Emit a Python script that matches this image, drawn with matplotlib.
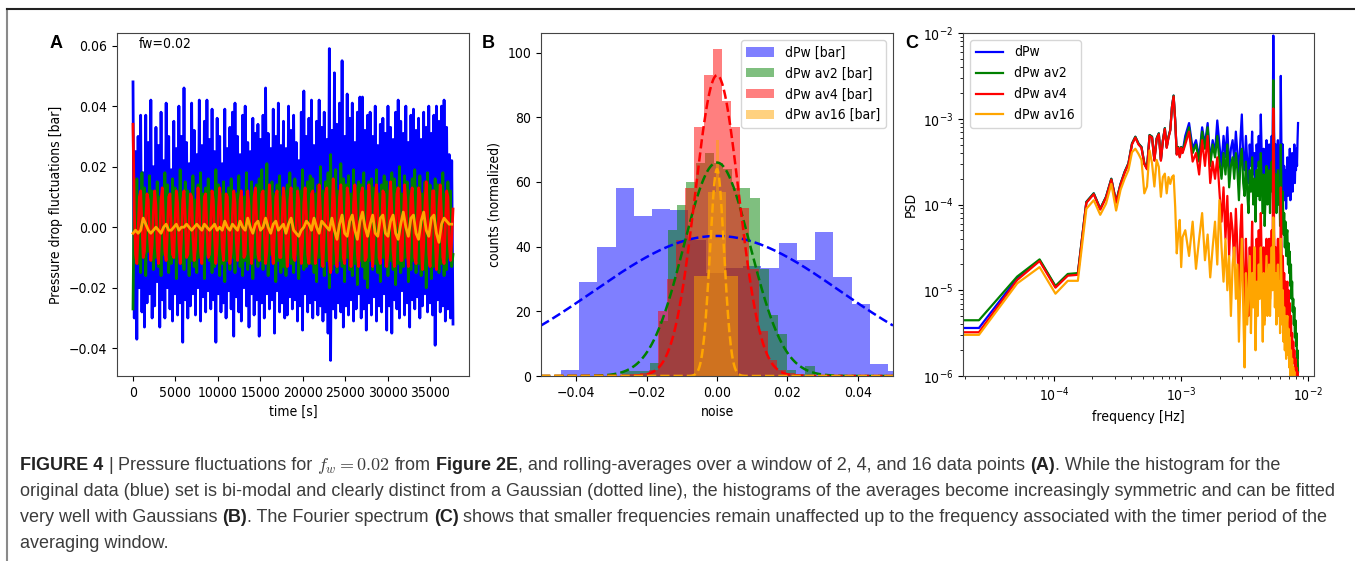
import numpy as np
import matplotlib
matplotlib.use("Agg")
import matplotlib.pyplot as plt
from matplotlib.lines import Line2D

plt.rcParams["font.stretch"] = "condensed"

# ---- A: pressure drop fluctuations [mbar], blue/green/red every 150 s, av16 every 300 s
dpw_mbar = [
    48, -30, 25, -37, 30, -20, 37, -28, 18, -33, 37, -25, 28, -22, 42, -30, 20, -26, 33, -18,
    27, -33, 38, -24, 22, -30, 41, -20, 30, -27, 19, -31, 35, -22, 26, -29, 40, -25, 30, -38,
    46, -24, 28, -30, 21, -26, 41, -22, 32, -29, 24, -20, 42, -31, 27, -23, 35, -28, 42, -21,
    29, -27, 39, -24, 25, -38, 36, -22, 30, -28, 21, -25, 39, -30, 26, -21, 33, -27, 38, -36,
    41, -23, 30, -28, 24, -31, 37, -20, 40, -26, 28, -33, 25, -22, 36, -29, 31, -24, 34, -36,
    29, -25, 37, -30, 46, -22, 31, -27, 26, -24, 39, -35, 30, -21, 41, -28, 27, -25, 35, -30,
    26, -29, 40, -23, 32, -27, 37, -24, 28, -31, 22, -26, 38, -34, 45, -22, 30, -28, 36, -25,
    42, -30, 27, -24, 35, -29, 42, -26, 33, -31, 38, -28, 29, -35, 59, -44, 32, -27, 51, -30,
    34, -25, 41, -28, 55, -33, 30, -26, 44, -29, 36, -24, 41, -31, 28, -27, 38, -22, 43, -30,
    43, -27, 32, -34, 37, -25, 38, -29, 30, -23, 40, -31, 27, -26, 34, -28, 36, -22, 31, -34,
    40, -26, 33, -35, 29, -24, 38, -27, 42, -30, 35, -21, 31, -29, 40, -25, 28, -33, 37, -24,
    39, -27, 32, -23, 36, -30, 29, -26, 38, -22, 33, -28, 40, -25, 31, -29, 37, -39, 40, -24,
    35, -28, 40, -26, 42, -31, 33, -27, 24, -30, 22, -32,
]
av2_mbar = [
    -27, 14, -10, 16, -12, 10, -15, 18, -9, 13, -16, 11, -8, 17, -11, 12, -14, 9, -10, 15,
    -13, 10, -16, 12, -9, 18, -11, 14, -15, 9, -12, 16, -10, 13, -17, 11, -8, 19, -12, 10,
    -14, 15, -9, 12, -16, 10, -11, 17, -13, 9, -15, 14, -10, 18, -12, 11, -17, 13, -9, 16,
    -11, 12, -15, 10, -13, 19, -9, 14, -16, 11, -12, 15, -18, 10, -11, 13, -14, 16, -10, 12,
    -15, 11, -9, 17, -13, 12, -16, 10, -11, 18, -14, 9, -12, 15, -17, 11, -10, 14, -13, 16,
    -11, 19, -14, 12, -10, 21, -16, 13, -9, 15, -12, 11, -18, 14, -11, 17, -15, 10, -13, 12,
    -16, 14, -10, 18, -12, 11, -15, 16, -9, 13, -17, 12, -11, 19, -14, 10, -13, 15, -10, 17,
    -12, 16, -15, 11, -18, 14, -10, 20, -13, 12, -16, 15, -11, 18, -20, 24, -14, 13, -12, 19,
    -15, 12, -11, 21, -13, 16, -18, 14, -10, 17, -14, 11, -16, 19, -12, 13, -19, 15, -11, 14,
    -13, 18, -17, 12, -20, 15, -11, 16, -14, 13, -12, 19, -15, 11, -18, 14, -10, 17, -13, 15,
    -16, 12, -11, 18, -14, 16, -19, 13, -12, 20, -15, 11, -13, 17, -10, 15, -18, 12, -14, 16,
    -11, 19, -15, 13, -12, 17, -16, 11, -14, 15, -20, 18, -12, 14, -17, 12, -13, 16, -11, 14,
    -15, 13, -12, 18, -16, 11, -14, 15, -10, 12, -13, -9,
]
av4_mbar = [
    34, 6, -9, -12, -2, 10, 12, 1, -10, -8, 3, 11, 9, -4, -11, -6, 5, 12, 7, -7,
    -12, -3, 9, 13, 2, -8, -11, -1, 10, 11, 0, -9, -10, 2, 12, 8, -5, -12, -4, 9,
    12, 3, -10, -9, 1, 11, 10, -3, -11, -7, 4, 13, 6, -8, -12, -2, 10, 11, -1, -10,
    -9, 2, 12, 9, -4, -12, -6, 6, 13, 5, -7, -11, -1, 11, 10, -2, -12, -8, 4, 12,
    8, -5, -11, -3, 9, 12, 1, -10, -9, 3, 12, 7, -6, -12, -3, 10, 13, 2, -9, -11,
    0, 11, 12, -2, -12, -8, 5, 14, 6, -7, -12, -2, 10, 12, 1, -10, -10, 3, 13, 8,
    -6, -13, -4, 9, 13, 2, -10, -11, 1, 12, 9, -4, -12, -5, 8, 13, 4, -9, -12, -1,
    11, 12, -1, -12, -8, 5, 14, 6, -8, -13, -2, 11, 13, 0, -11, -15, 3, 16, 9, -7,
    -13, -4, 10, 14, 3, -10, -12, 1, 13, 10, -5, -13, -6, 8, 14, 5, -9, -13, -2, 11,
    13, 1, -11, -10, 3, 14, 8, -6, -13, -4, 9, 14, 4, -10, -12, 0, 12, 11, -3, -13,
    -8, 6, 15, 6, -8, -13, -2, 11, 13, 1, -11, -11, 2, 14, 9, -6, -13, -4, 10, 13,
    3, -10, -12, 1, 13, 11, -4, -14, -6, 8, 15, 5, -9, -13, -1, 12, 12, -3, -14, -7,
    7, 14, 4, -10, -12, 0, 12, 10, -5, -11, -4, 6,
]
av16_mbar = [
    -2, -1, -2, -1, 3, 1, -1, -2, -1, 0, -1, -2, 0, 1, -1, -1, 0, 1, -1, 0,
    0, 1, 0, -1, 0, 1, 0, -1, 1, 0, -1, 0, 1, -1, 0, -1, 2, 0, -1, 1,
    0, -1, 2, 0, -1, 3, 0, -2, 1, 2, -1, 0, 3, 0, -2, 1, 2, -1, 0, 1,
    -2, 1, 3, -1, -2, -3, -1, 0, 2, 1, -1, 3, 0, -2, 2, 1, 0, -1, 3, -1,
    -4, 1, 4, -2, -3, 2, 4, -1, -4, 2, 5, 0, -3, 1, 4, -2, -3, 3, 4, -2,
    -3, 2, 4, -2, -4, 1, 5, 0, -3, 3, 4, -2, -4, 2, 5, -1, -3, 3, 4, -2,
    -5, 1, 3, 2, 1, 1,
]
step_fast_s = 150
step_av16_s = 300

# ---- B: histograms (normalized counts) and gaussian fits
bins_dpw = np.linspace(-0.0443, 0.0537, 20)
hist_dpw = [2, 29, 40, 58, 49.5, 51.5, 51.4, 42, 32, 33.5, 34, 33.5, 41, 36, 44.5, 30.7, 22.3, 3.6, 1.5]
bins_av2 = np.linspace(-0.0269, 0.0277, 22)
hist_av2 = [1.5, 1.5, 1.5, 4, 17, 45, 53, 60, 66, 69, 66, 64, 58, 58, 55, 33, 19, 13, 2, 0.5, 3]
bins_av4 = np.linspace(-0.0246, 0.0248, 20)
hist_av4 = [0.5, 1, 2, 20, 30, 42, 58, 77, 93, 101, 85, 77, 52, 33, 14, 5, 2, 1, 0.5]
bins_av16 = [-0.0064, -0.0026, -0.0002, 0.0007, 0.0026, 0.0059]
hist_av16 = [31, 57, 73, 57, 31]

fit_amp = [43.3, 66.0, 93.0, 64.0]
fit_mu = [0.0, 0.0, 0.0, 0.0]
fit_sigma = [0.035, 0.0095, 0.0062, 0.002]

# ---- C: PSD, log10 values on the FFT grid (every bin up to k=40, then every 3rd)
df_hz = 2.56e-5
k_grid = np.r_[np.arange(0, 41), np.arange(42, 325, 3)]
psd_dpw_log = [
    -5.44, -5.44, -4.86, -4.65, -4.96, -4.82, -4.81, -3.97, -3.87, -4.05, -3.91, -3.70, -3.97, -3.76,
    -3.62, -3.52, -3.29, -3.21, -3.29, -3.33, -3.52, -3.58, -3.19, -3.21, -3.48, -3.23, -3.17, -3.48,
    -3.25, -3.11, -3.33, -3.21, -3.13, -2.86, -2.73, -3.02, -3.41, -3.33, -3.44, -3.33, -3.39,
    -3.20, -3.05, -3.35, -3.25, -3.45, -3.10, -3.30, -3.05, -3.50, -3.25,
    -3.40, -3.02, -3.30, -3.55, -3.20, -3.45, -3.10, -3.60, -3.35, -3.25,
    -3.50, -3.15, -3.40, -3.70, -3.25, -2.95, -3.45, -3.60, -3.20, -3.50,
    -3.75, -3.30, -3.55, -3.15, -3.65, -3.40, -3.85, -3.30, -3.55, -3.20,
    -3.60, -2.95, -3.45, -3.70, -3.35, -3.90, -3.50, -3.25, -3.65, -3.40,
    -3.30, -3.75, -3.45, -3.20, -3.55, -2.03,
    -3.15, -3.50, -3.30, -3.70, -3.40, -3.25, -3.60, -3.35, -3.80, -2.50,
    -3.40, -3.65, -3.30, -3.85, -3.55, -3.95, -3.60, -4.05, -3.70,
    -3.45, -3.90, -3.60, -3.80, -3.35, -3.95, -3.50, -3.70, -3.40, -3.85,
    -3.50, -3.65, -3.30, -3.75, -3.45, -3.60, -3.35, -3.55, -3.25, -3.05,
]
psd_av2_log = [
    -5.35, -5.35, -4.84, -4.64, -4.95, -4.81, -4.80, -3.97, -3.87, -4.05, -3.91, -3.70, -3.97, -3.76,
    -3.62, -3.52, -3.29, -3.21, -3.29, -3.33, -3.52, -3.58, -3.19, -3.21, -3.48, -3.23, -3.17, -3.48,
    -3.25, -3.11, -3.33, -3.21, -3.13, -2.86, -2.73, -3.02, -3.41, -3.33, -3.44, -3.33, -3.39,
    -3.25, -3.10, -3.40, -3.30, -3.50, -3.15, -3.35, -3.10, -3.55, -3.30,
    -3.45, -3.20, -3.50, -3.70, -3.40, -3.65, -3.30, -3.80, -3.55, -3.45,
    -3.70, -3.40, -3.60, -3.95, -3.50, -3.35, -3.75, -3.90, -3.50, -3.85,
    -4.10, -3.60, -3.85, -3.45, -4.00, -3.70, -4.20, -3.60, -3.90, -3.50,
    -3.95, -3.40, -3.80, -4.10, -3.65, -4.25, -3.85, -3.55, -4.00, -3.70,
    -3.60, -4.10, -3.75, -3.50, -3.85, -2.55,
    -3.50, -3.90, -3.65, -4.10, -3.80, -3.60, -4.00, -3.75, -4.25, -3.30,
    -3.90, -4.20, -3.85, -4.35, -4.10, -4.50, -4.20, -4.60, -4.35,
    -4.30, -4.70, -4.45, -4.80, -4.55, -4.95, -4.70, -5.10, -4.90, -5.25,
    -5.10, -5.40, -5.20, -5.55, -5.35, -5.65, -5.50, -5.80, -5.70, -5.95,
]
psd_av4_log = [
    -5.49, -5.49, -4.88, -4.66, -4.97, -4.83, -4.82, -3.98, -3.88, -4.06, -3.92, -3.71, -3.98, -3.77,
    -3.63, -3.53, -3.30, -3.22, -3.30, -3.34, -3.53, -3.59, -3.20, -3.22, -3.49, -3.24, -3.18, -3.49,
    -3.26, -3.12, -3.34, -3.22, -3.14, -2.87, -2.74, -3.03, -3.42, -3.34, -3.45, -3.34, -3.40,
    -3.30, -3.15, -3.50, -3.40, -3.65, -3.25, -3.55, -3.20, -3.75, -3.50,
    -3.70, -3.45, -3.85, -4.20, -3.80, -4.40, -3.90, -4.60, -4.10, -4.30,
    -4.70, -4.05, -4.50, -5.10, -4.30, -4.00, -4.80, -5.20, -4.40, -4.90,
    -5.30, -4.50, -4.90, -4.20, -5.00, -4.60, -5.40, -4.40, -4.90, -4.30,
    -4.80, -4.10, -4.70, -5.20, -4.50, -5.35, -4.85, -4.40, -5.00, -4.60,
    -4.40, -5.10, -4.70, -4.30, -4.80, -2.88,
    -4.30, -4.80, -4.50, -5.10, -4.70, -4.40, -5.00, -4.60, -5.20, -3.80,
    -4.50, -4.90, -4.60, -5.10, -4.80, -5.30, -4.90, -5.40, -5.00,
    -4.90, -5.30, -5.00, -5.45, -5.15, -5.60, -5.30, -5.70, -5.50, -5.80,
    -5.60, -5.85, -5.70, -5.95, -5.80, -6.00, -5.90, -6.05, -5.95, -6.10,
]
psd_av16_log = [
    -5.52, -5.52, -4.92, -4.73, -5.04, -4.89, -4.89, -4.05, -3.95, -4.12, -3.99, -3.76, -4.07, -3.83,
    -3.70, -3.60, -3.39, -3.35, -3.41, -3.48, -3.87, -3.79, -3.37, -3.52, -3.79, -3.48, -3.56, -3.91,
    -3.68, -3.64, -3.87, -3.68, -3.76, -3.68, -3.66, -4.03, -4.57, -4.34, -4.18, -4.73, -4.38,
    -4.30, -4.60, -4.20, -4.75, -4.40, -4.10, -4.65, -4.35, -4.85, -4.50,
    -4.20, -4.70, -3.95, -4.50, -4.90, -4.40, -5.00, -4.60, -5.30, -4.70,
    -4.50, -5.10, -4.70, -5.60, -4.90, -4.40, -5.20, -5.90, -4.80, -5.40,
    -5.00, -4.60, -5.50, -4.80, -5.20, -4.50, -5.70, -4.90, -5.30, -4.70,
    -5.10, -4.50, -5.00, -5.60, -4.80, -5.40, -5.00, -4.60, -5.30, -4.90,
    -4.70, -5.30, -4.90, -4.50, -5.00, -4.15,
    -4.60, -5.20, -4.80, -5.40, -5.00, -4.70, -5.30, -4.90, -5.50, -4.40,
    -4.90, -5.40, -5.00, -5.60, -5.20, -5.70, -5.30, -5.80, -5.40,
    -5.30, -5.75, -5.45, -5.90, -5.55, -6.05, -5.70, -5.95, -5.80, -6.10,
    -5.90, -6.15, -5.95, -6.20, -6.05, -6.25, -6.10, -6.30, -6.20, -6.40,
]

colors = ["blue", "green", "red", "orange"]

W, H = 1355, 561
fig = plt.figure(figsize=(W / 100, H / 100), dpi=100)


def px_axes(left, top, right, bottom):
    return fig.add_axes([left / W, 1 - bottom / H, (right - left) / W, (bottom - top) / H])


ax_a = px_axes(117, 33, 469, 376)
ax_b = px_axes(541, 33, 893, 376)
ax_c = px_axes(963, 33, 1314, 376)

# A
for series, step, c in [(dpw_mbar, step_fast_s, "blue"), (av2_mbar, step_fast_s, "green"),
                        (av4_mbar, step_fast_s, "red"), (av16_mbar, step_av16_s, "orange")]:
    vals = np.array(series) / 1000.0
    ax_a.plot(np.arange(len(vals)) * step, vals, color=c, lw=2)
ax_a.set_xticks(np.arange(0, 35001, 5000))
ax_a.set_xlabel("time [s]", fontsize=10)
ax_a.set_ylabel("Pressure drop fluctuations [bar]", fontsize=10)
ax_a.text(0.062, 0.968, "fw=0.02", transform=ax_a.transAxes, fontsize=10, va="center")

# B
labels_b = ["dPw [bar]", "dPw av2 [bar]", "dPw av4 [bar]", "dPw av16 [bar]"]
for bins, h, c, lab in zip([bins_dpw, bins_av2, bins_av4, bins_av16],
                           [hist_dpw, hist_av2, hist_av4, hist_av16], colors, labels_b):
    bins = np.asarray(bins)
    centers = (bins[:-1] + bins[1:]) / 2
    ax_b.hist(centers, bins=bins, weights=h, color=c, alpha=0.5, label=lab)
noise = np.linspace(-0.05, 0.05, 500)
for a, mu, s, c in zip(fit_amp, fit_mu, fit_sigma, colors):
    ax_b.plot(noise, a * np.exp(-(noise - mu) ** 2 / (2 * s ** 2)), "--", color=c, lw=1.8)
ax_b.set_xlim(-0.05, 0.05)
ax_b.set_xticks([-0.04, -0.02, 0.0, 0.02, 0.04])
ax_b.set_xlabel("noise", fontsize=10)
ax_b.set_ylabel("counts (normalized)", fontsize=10)
ax_b.legend(loc="upper right", fontsize=10)

# C
freq = k_grid * df_hz
labels_c = ["dPw", "dPw av2", "dPw av4", "dPw av16"]
for vals, c, lab in zip([psd_dpw_log, psd_av2_log, psd_av4_log, psd_av16_log], colors, labels_c):
    ax_c.plot(freq, 10 ** np.array(vals), color=c, lw=1.6, label=lab)
ax_c.set_xscale("log")
ax_c.set_yscale("log")
ax_c.set_ylim(1e-6, 1e-2)
ax_c.set_xlabel("frequency [Hz]", fontsize=10)
ax_c.set_ylabel("PSD", fontsize=10)
ax_c.legend(loc="upper left", fontsize=10)

for ax in (ax_a, ax_b, ax_c):
    ax.tick_params(labelsize=10)
    for sp in ax.spines.values():
        sp.set_color("#444444")

# panel letters
for x, letter in [(50, "A"), (482, "B"), (905, "C")]:
    fig.text(x / W, 1 - 43 / H, letter, fontsize=13, fontweight="bold",
             family="Liberation Sans", stretch="normal", va="center")

# frame lines
fig.add_artist(Line2D([7 / W, 7 / W], [0, 1 - 9 / H], color="#8a8a8a", lw=1.5))
fig.add_artist(Line2D([7 / W, 1], [1 - 9 / H, 1 - 9 / H], color="#222222", lw=1.5))

# caption
cap_font = ["Liberation Sans"]
cap_size = 13
cap_color = "#3c3c3c"
renderer = fig.canvas.get_renderer()
caption = [
    [("FIGURE 4", "bold"), ("|", "normal"), ("Pressure fluctuations for", "normal"),
     ("$f_w = 0.02$", "math"), ("from", "normal"), ("Figure 2E", "bold"),
     (", and rolling-averages over a window of 2, 4, and 16 data points", "cont"),
     ("(A)", "bold"), (". While the histogram for the", "cont")],
    [("original data (blue) set is bi-modal and clearly distinct from a Gaussian (dotted line), "
      "the histograms of the averages become increasingly symmetric and can be fitted", "normal")],
    [("very well with Gaussians", "normal"), ("(B)", "bold"), (". The Fourier spectrum", "cont"),
     ("(C)", "bold"), ("shows that smaller frequencies remain unaffected up to the frequency "
                       "associated with the timer period of the", "normal")],
    [("averaging window.", "normal")],
]
probe = fig.text(0, 0, "x x", fontsize=cap_size, family=cap_font, stretch="normal")
w2 = probe.get_window_extent(renderer).width
probe.set_text("xx")
space_w = w2 - probe.get_window_extent(renderer).width
probe.remove()

for i, line in enumerate(caption):
    x = 20.0
    y = 1 - (470 + 26 * i) / H
    for j, (txt, kind) in enumerate(line):
        if j > 0 and kind != "cont":
            x += space_w
        kw = dict(fontsize=cap_size, family=cap_font, stretch="normal", color=cap_color,
                  va="baseline")
        if kind == "bold":
            kw.update(fontweight="bold", color="#222222")
        if kind == "math":
            kw.update(math_fontfamily="cm")
        t = fig.text(x / W, y, txt, **kw)
        x += t.get_window_extent(renderer).width

fig.savefig("out.png", dpi=100)
